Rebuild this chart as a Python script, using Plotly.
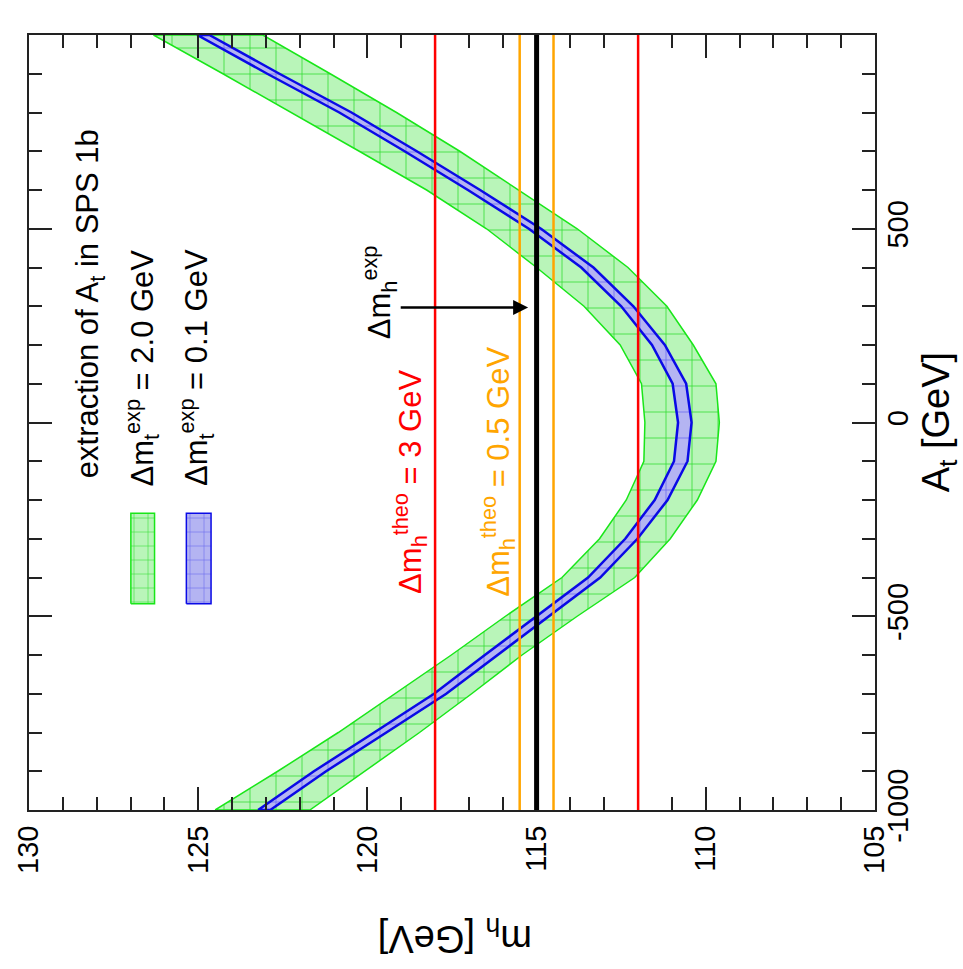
import plotly.graph_objects as go

# Stop-mixing parameter grid (GeV)
a_t = [-1000, -900, -800, -700, -600, -500, -400, -300, -200, -100, 0,
       100, 200, 300, 400, 500, 600, 700, 800, 900, 1000]

# m_h band for Delta m_t(exp) = 2.0 GeV (lower / upper edge)
band_wide_lo = [121.70, 120.09, 118.46, 116.92, 115.43, 113.80, 112.10, 111.05, 110.25, 109.70, 109.60,
                109.70, 110.37, 111.15, 112.30, 113.80, 115.52, 117.27, 119.14, 121.10, 123.09]
band_wide_hi = [124.50, 122.65, 120.86, 119.18, 117.52, 115.92, 114.25, 113.14, 112.35, 111.83, 111.80,
                111.90, 112.53, 113.60, 115.00, 116.48, 118.25, 120.24, 122.25, 124.27, 126.32]

# m_h band for Delta m_t(exp) = 0.1 GeV (lower / upper edge)
band_narrow_lo = [122.87, 121.22, 119.44, 117.67, 116.17, 114.64, 113.12, 112.02, 111.13, 110.54, 110.42,
                  110.58, 111.21, 112.14, 113.32, 114.87, 116.67, 118.54, 120.47, 122.60, 124.67]
band_narrow_hi = [123.23, 121.58, 119.80, 118.03, 116.53, 115.00, 113.48, 112.38, 111.51, 110.94, 110.82,
                  110.98, 111.59, 112.50, 113.68, 115.23, 117.03, 118.90, 120.83, 122.96, 125.03]

# Measured m_h and the theory-uncertainty windows around it
mh_exp = 115.0
mh_theo_3gev = [112.0, 118.0]
mh_theo_05gev = [114.5, 115.5]

x_ticks = [105, 110, 115, 120, 125, 130]
y_ticks = [-1000, -500, 0, 500, 1000]

FONT = "Liberation Sans, Arial, sans-serif"
GREEN_LINE = "#19e619"
GREEN_FILL = "#b9f5b9"
BLUE_LINE = "#0a0ae6"
BLUE_FILL = "#b4b4f2"
RED = "#ff0000"
ORANGE = "#ffa500"


def band(lo, hi, line_color, fill_color, grid_color, width):
    xs = list(hi) + list(reversed(lo)) + [hi[0]]
    ys = list(a_t) + list(reversed(a_t)) + [a_t[0]]
    return go.Scatter(
        x=xs, y=ys, mode="lines", fill="toself",
        line=dict(color=line_color, width=width),
        fillcolor=fill_color,
        fillpattern=dict(shape="+", size=26, solidity=0.06,
                         fgcolor=grid_color, bgcolor=fill_color, fillmode="replace"),
        hoverinfo="skip", showlegend=False,
    )


fig = go.Figure()
fig.add_trace(band(band_wide_lo, band_wide_hi, GREEN_LINE, GREEN_FILL, "#33dd33", 1.5))
fig.add_trace(band(band_narrow_lo, band_narrow_hi, BLUE_LINE, BLUE_FILL, "#6a6aee", 2.5))

# Legend swatches
def swatch(m_left, m_right, a_bottom, a_top, line_color, fill_color, grid_color):
    return go.Scatter(
        x=[m_left, m_right, m_right, m_left, m_left],
        y=[a_bottom, a_bottom, a_top, a_top, a_bottom],
        mode="lines", fill="toself",
        line=dict(color=line_color, width=1.5),
        fillcolor=fill_color,
        fillpattern=dict(shape="+", size=14, solidity=0.08,
                         fgcolor=grid_color, bgcolor=fill_color, fillmode="replace"),
        hoverinfo="skip", showlegend=False,
    )


fig.add_trace(swatch(126.99, 126.29, -468, -234, GREEN_LINE, GREEN_FILL, "#33dd33"))
fig.add_trace(swatch(125.35, 124.62, -468, -234, BLUE_LINE, BLUE_FILL, "#6a6aee"))

# Vertical reference lines
for v in mh_theo_3gev:
    fig.add_vline(x=v, line=dict(color=RED, width=2.5), layer="above")
for v in mh_theo_05gev:
    fig.add_vline(x=v, line=dict(color=ORANGE, width=2.5), layer="above")
fig.add_vline(x=mh_exp, line=dict(color="black", width=5), layer="above")

txt = 31
annotations = [
    dict(x=128.19, y=306, text="extraction of A<sub>t</sub> in SPS 1b", color="black"),
    dict(x=126.64, y=141, text="Δm<sub>t</sub><sup>exp</sup> = 2.0 GeV", color="black"),
    dict(x=125.03, y=141, text="Δm<sub>t</sub><sup>exp</sup> = 0.1 GeV", color="black"),
    dict(x=118.75, y=-154, text="Δm<sub>h</sub><sup>theo</sup> = 3 GeV", color=RED),
    dict(x=116.15, y=-128, text="Δm<sub>h</sub><sup>theo</sup> = 0.5 GeV", color=ORANGE),
    dict(x=119.62, y=337, text="Δm<sub>h</sub><sup>exp</sup>", color="black"),
]
for a in annotations:
    fig.add_annotation(x=a["x"], y=a["y"], xref="x", yref="y", text=a["text"],
                       showarrow=False, textangle=-90, xanchor="center", yanchor="middle",
                       font=dict(family=FONT, size=txt, color=a["color"]))

# Arrow pointing at the measured m_h line
fig.add_annotation(x=115.25, y=297, ax=119.06, ay=297, xref="x", yref="y",
                   axref="x", ayref="y", text="", showarrow=True,
                   arrowhead=2, arrowsize=1.2, arrowwidth=2.5, arrowcolor="black")

# Axis titles (plot is drawn rotated by 90 degrees)
fig.add_annotation(x=940, y=422, xref="paper", yref="paper", text="A<sub>t</sub> [GeV]",
                   showarrow=False, textangle=-90, xanchor="center", yanchor="middle",
                   font=dict(family=FONT, size=38, color="black"))
fig.add_annotation(x=450, y=936, xref="paper", yref="paper", text="m<sub>h</sub> [GeV]",
                   showarrow=False, textangle=180, xanchor="center", yanchor="middle",
                   font=dict(family=FONT, size=38, color="black"))

W, H = 963, 969
ML, MR, MT, MB = 20, 88, 35, 159

# convert the two pixel-positioned titles into paper coordinates
for ann in fig.layout.annotations:
    if ann.xref == "paper":
        px, py = ann.x, ann.y
        ann.x = (px - ML) / (W - ML - MR)
        ann.y = 1 - (py - MT) / (H - MT - MB)

axis_common = dict(
    showgrid=False, zeroline=False, showline=True, linecolor="#222222", linewidth=2,
    mirror="ticks", ticks="inside", ticklen=23, tickwidth=2, tickcolor="#222222",
    minor=dict(ticks="inside", ticklen=13, tickwidth=2, tickcolor="#222222"),
    tickfont=dict(family=FONT, size=29, color="black"), tickangle=-90,
)

fig.update_xaxes(range=[130, 105], tickmode="array", tickvals=x_ticks,
                 ticktext=[str(v) for v in x_ticks], ticklabelstandoff=2, **axis_common)
fig.update_xaxes(minor_dtick=1, minor_tick0=105)
fig.update_yaxes(range=[-1000, 1000], side="right", tickmode="array", tickvals=y_ticks,
                 ticktext=[str(v) for v in y_ticks], ticklabelstandoff=-4, **axis_common)
fig.update_yaxes(minor_dtick=100, minor_tick0=-1000)

fig.update_layout(
    width=W, height=H,
    margin=dict(l=ML, r=MR, t=MT, b=MB),
    paper_bgcolor="white", plot_bgcolor="white",
    showlegend=False,
)

fig.write_html("out.html")
